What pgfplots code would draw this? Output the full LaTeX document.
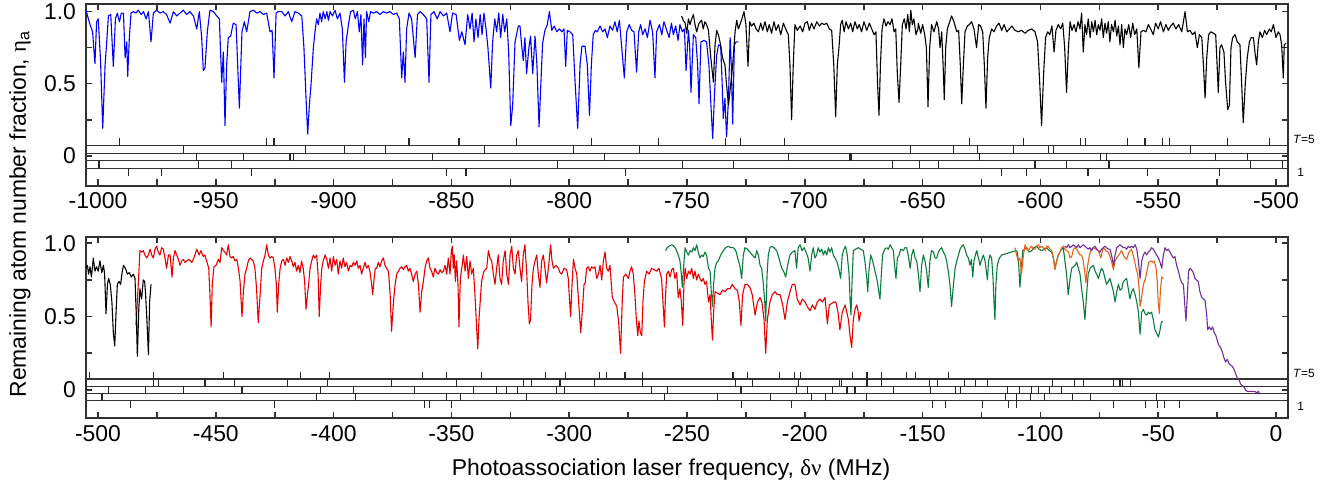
\documentclass[border=0pt]{standalone}
\usepackage{fontspec}
\setmainfont{Liberation Sans}
\newfontfamily\grk{Liberation Serif}
\usepackage{pgfplots}
\pgfplotsset{compat=1.18}
\definecolor{pblue}{RGB}{0,0,255}
\definecolor{pred}{RGB}{232,0,0}
\definecolor{pgreen}{RGB}{10,125,60}
\definecolor{porange}{RGB}{228,98,28}
\definecolor{ppurple}{RGB}{115,45,155}
\definecolor{spine}{RGB}{50,50,50}

\pgfplotsset{
  panel/.style={
    scale only axis, width=601bp, height=90.85bp, anchor=south west,
    axis line style={line width=1bp, spine},
    tick align=inside, xtick pos=both, ytick pos=both,
    major tick length=3.2bp, minor tick length=3.2bp,
    tick style={spine, line width=0.8bp},
    ytick={0,0.5,1}, yticklabels={0,0.5,1.0}, minor ytick={0.25,0.75},
    tick label style={font=\fontsize{11.5}{13}\selectfont},
    yticklabel style={xshift=-1.5bp},
    every axis plot/.append style={line width=0.55bp, line join=round},
  },
  lad/.style={only marks, mark=|, mark size=1.85bp, mark options={line width=0.55bp, black!85}},
  ladline/.style={black!80, line width=0.55bp},
}

\begin{document}
\begin{tikzpicture}
\useasboundingbox (0,0) rectangle (667bp,246bp);

% ---------------- upper panel ----------------
\begin{axis}[panel, at={(43bp,153.15bp)},
  xmin=-1005.1, xmax=-494.9, ymin=-0.208, ymax=1.053,
  xtick={-1000,-950,...,-500}, minor xtick={-975,-925,...,-525},
  xticklabels={-1000,-950,-900,-850,-800,-750,-700,-650,-600,-550,-500}]

% ladder
\addplot[ladline] coordinates {(-1010,0.070) (-490,0.070)};
\addplot[ladline] coordinates {(-1010,0.018) (-490,0.018)};
\addplot[ladline] coordinates {(-1010,-0.034) (-490,-0.034)};
\addplot[ladline] coordinates {(-1010,-0.086) (-490,-0.086)};
% T=5
\addplot[lad] coordinates {(-990.7,0.096) (-928.4,0.096) (-925.3,0.096) (-868,0.096) (-846.8,0.096) (-822.2,0.096)
 (-790.5,0.096) (-762,0.096) (-733.7,0.096) (-727.2,0.096) (-708.6,0.096) (-630.1,0.096) (-607.2,0.096)
 (-582.8,0.096) (-581,0.096) (-563.1,0.096) (-555.6,0.096) (-548.1,0.096) (-545.2,0.096) (-520.5,0.096) (-502.7,0.096)};
% T=4
\addplot[lad] coordinates {(-963.6,0.044) (-912,0.044) (-895.5,0.044) (-887,0.044) (-878.1,0.044) (-836,0.044)
 (-798,0.044) (-770,0.044) (-655.2,0.044) (-636.8,0.044) (-626.6,0.044) (-611.4,0.044) (-596.6,0.044) (-594.3,0.044) (-536.2,0.044)};
% T=3
\addplot[lad] coordinates {(-958.1,-0.008) (-938.3,-0.008) (-918.5,-0.008) (-916.9,-0.008) (-857.9,-0.008)
 (-785,-0.008) (-707.1,-0.008) (-680.8,-0.008) (-680,-0.008) (-625.8,-0.008) (-574.5,-0.008) (-572.1,-0.008)
 (-525.6,-0.008) (-512.2,-0.008)};
% T=2
\addplot[lad] coordinates {(-999.6,-0.060) (-957.4,-0.060) (-943.5,-0.060) (-805,-0.060) (-752,-0.060) (-730.1,-0.060)
 (-662.9,-0.060) (-651.3,-0.060) (-643.3,-0.060) (-602.3,-0.060) (-588.9,-0.060) (-570.9,-0.060) (-510.9,-0.060) (-497.2,-0.060)};
% T=1
\addplot[lad] coordinates {(-987,-0.112) (-973,-0.112) (-935,-0.112) (-852.2,-0.112) (-843.8,-0.112)
 (-776,-0.112) (-616.5,-0.112) (-605.9,-0.112) (-579.8,-0.112) (-554.5,-0.112) (-524.1,-0.112)};

% blue spectrum
\addplot[pblue] coordinates {
(-1005.1,1.01) (-1003.4,0.91) (-1002.3,0.86) (-1001.3,0.64) (-1000.6,0.93) (-999.9,0.95) (-998.9,0.65) (-998.0,0.19)
(-997.0,0.63) (-996.3,0.79) (-995.6,0.97) (-994.6,0.98) (-993.5,0.62) (-992.6,0.95) (-991.8,0.99) (-990.9,0.93)
(-990.1,0.99) (-989.2,0.99) (-988.5,0.68) (-987.8,0.79) (-987.4,0.55) (-986.7,0.82) (-986.0,0.99) (-985.0,1.0)
(-983.9,0.99) (-982.9,1.01) (-981.7,0.98) (-980.7,1.0) (-979.6,0.95) (-978.6,1.0) (-977.5,0.79) (-976.5,0.99)
(-975.1,1.01) (-973.7,0.99) (-972.3,1.0) (-970.9,0.98) (-969.4,0.92) (-968.0,1.0) (-966.6,0.97) (-965.2,0.99)
(-963.8,1.01) (-962.4,0.98) (-961.0,1.0) (-959.5,0.97) (-958.1,0.88) (-957.0,1.0) (-956.0,0.82) (-955.3,0.59)
(-954.6,0.61) (-953.6,0.86) (-952.5,1.01) (-951.0,1.0) (-949.6,0.97) (-948.5,0.95) (-947.5,0.51) (-946.8,0.72)
(-946.1,0.21) (-945.4,0.63) (-944.7,0.82) (-943.7,0.83) (-942.6,0.92) (-941.4,0.91) (-940.0,0.33) (-938.9,0.86)
(-937.9,0.93) (-936.9,0.86) (-935.5,1.0) (-934.1,1.01) (-932.6,0.99) (-931.2,1.0) (-929.8,0.98) (-928.4,0.99)
(-927.0,0.86) (-926.1,0.87) (-925.3,0.54) (-924.4,0.99) (-923.5,1.0) (-922.0,1.0) (-920.6,0.97) (-919.2,1.0)
(-917.8,0.93) (-916.4,1.0) (-915.0,0.99) (-913.5,0.97) (-912.6,0.75) (-911.7,0.40) (-911.0,0.15) (-910.3,0.35)
(-909.6,0.49) (-908.6,0.75) (-907.9,0.86) (-907.2,0.95) (-906.5,0.91) (-905.8,0.99) (-905.1,0.93) (-904.4,1.0)
(-903.6,0.95) (-902.9,1.0) (-902.2,0.94) (-901.5,1.0) (-900.5,0.97) (-899.4,1.01) (-898.4,0.95) (-897.3,0.99)
(-896.3,0.88) (-895.4,0.51) (-894.7,0.79) (-893.7,0.91) (-892.8,1.0) (-891.6,1.01) (-890.8,0.95) (-889.9,1.0)
(-889.1,0.86) (-888.4,0.98) (-887.7,0.63) (-887.1,0.95) (-886.5,0.68) (-886.0,1.0) (-885.1,0.93) (-884.3,1.0)
(-883.1,0.99) (-881.7,1.0) (-880.3,0.98) (-878.9,1.0) (-877.5,0.99) (-876.1,1.0) (-874.6,0.98) (-873.2,0.99)
(-872.1,0.95) (-871.1,0.54) (-870.4,0.72) (-869.7,0.51) (-869.0,0.88) (-868.0,0.99) (-866.9,0.95) (-865.4,0.68)
(-864.4,0.98) (-863.3,1.0) (-861.9,0.98) (-860.5,0.95) (-859.5,0.51) (-858.7,0.98) (-857.4,1.0) (-856.0,0.95)
(-854.8,1.0) (-853.4,0.97) (-852.0,0.99) (-850.6,0.86) (-849.5,0.99) (-848.0,0.98) (-846.6,0.80) (-845.6,0.86)
(-844.2,0.77) (-843.1,0.98) (-842.1,0.88) (-841.2,0.99) (-840.4,0.79) (-839.6,0.95) (-838.7,0.82) (-837.8,0.98)
(-837.0,0.84) (-836.2,0.99) (-835.3,0.88) (-834.5,0.75) (-833.3,0.47) (-832.5,0.79) (-831.6,0.95) (-830.8,0.86)
(-829.9,0.99) (-829.1,0.82) (-828.2,0.98) (-827.4,0.86) (-826.5,0.95) (-825.7,0.72) (-824.8,0.21) (-824.0,0.35)
(-823.0,0.79) (-821.6,0.90) (-820.9,0.90) (-820.2,0.77) (-819.5,0.66) (-818.8,0.82) (-818.1,0.57) (-817.1,0.75)
(-816.4,0.83) (-815.5,0.57) (-814.5,0.83) (-813.7,0.63) (-812.8,0.20) (-812.0,0.51) (-811.3,0.78) (-810.3,0.87)
(-809.3,0.91) (-808.4,1.0) (-807.4,0.87) (-806.4,0.90) (-805.3,0.86) (-804.2,0.88) (-803.1,0.86) (-802.2,0.88)
(-801.5,0.62) (-800.8,0.87) (-799.7,0.86) (-798.5,0.84) (-797.5,0.51) (-796.4,0.19) (-795.4,0.63) (-794.6,0.76)
(-793.3,0.76) (-792.3,0.63) (-791.4,0.28) (-790.6,0.63) (-789.8,0.84) (-788.9,0.87) (-788.1,0.86) (-786.9,0.90)
(-785.8,0.86) (-784.8,0.88) (-783.8,0.82) (-782.7,0.90) (-781.6,0.87) (-780.6,0.93) (-779.6,0.86) (-778.7,0.94)
(-777.7,0.75) (-776.6,0.54) (-775.6,0.86) (-774.5,0.91) (-773.5,0.87) (-772.5,0.86) (-771.4,0.58) (-770.5,0.86)
(-769.7,0.91) (-768.8,0.84) (-767.8,0.88) (-766.8,0.82) (-765.7,0.94) (-764.6,0.86) (-763.6,0.54) (-762.9,0.86)
(-761.7,0.91) (-760.7,0.84) (-759.8,0.93) (-758.6,0.87) (-757.6,0.82) (-756.6,0.92) (-755.8,0.84) (-754.8,0.90)
(-753.8,0.80) (-753.0,0.91) (-752.0,0.86) (-751.1,0.88) (-750.4,0.59) (-749.4,0.87) (-748.9,0.77) (-748.3,0.44)
(-747.3,0.84) (-746.3,0.82) (-745.5,0.63) (-744.9,0.36) (-744.1,0.79) (-742.8,0.80) (-741.7,0.79) (-740.7,0.63)
(-740.0,0.40) (-739.1,0.12) (-738.3,0.44) (-737.4,0.70) (-736.6,0.77) (-735.7,0.76) (-735.1,0.51) (-734.6,0.26)
(-733.9,0.40) (-733.2,0.13) (-732.4,0.40) (-731.7,0.82) (-731.2,0.63) (-730.6,0.22) (-729.9,0.77) (-729.2,0.79)
(-728.2,0.79)};

% black spectrum (upper)
\addplot[black] coordinates {
(-752.3,0.97) (-751.6,0.94) (-750.8,0.92) (-750.1,0.85) (-749.4,0.95) (-748.7,0.91) (-748.0,0.95) (-747.3,0.98)
(-746.6,0.91) (-745.9,0.86) (-744.9,0.92) (-743.8,0.94) (-743.1,0.88) (-742.4,0.93) (-741.7,0.91) (-740.9,0.87)
(-739.9,0.68) (-738.8,0.51) (-738.1,0.77) (-737.4,0.87) (-736.7,0.84) (-736.0,0.79) (-734.9,0.68) (-733.9,0.63)
(-733.2,0.49) (-732.4,0.35) (-731.5,0.49) (-730.6,0.63) (-729.6,0.86) (-728.9,0.94) (-728.2,0.88) (-727.5,0.91)
(-726.7,0.95) (-725.8,1.0) (-725.0,0.91) (-724.1,0.62) (-723.4,0.93) (-722.6,0.90) (-721.6,0.92) (-720.7,0.88)
(-719.7,0.86) (-718.7,0.92) (-717.9,0.87) (-716.9,0.93) (-715.9,0.86) (-715.1,0.91) (-714.1,0.85) (-713.1,0.93)
(-712.2,0.87) (-711.2,0.91) (-710.2,0.84) (-709.1,0.92) (-708.1,0.88) (-707.0,0.84) (-706.3,0.63) (-705.6,0.25)
(-704.9,0.63) (-704.2,0.91) (-703.2,0.87) (-702.0,0.90) (-700.9,0.86) (-699.9,0.92) (-698.9,0.93) (-698.1,0.87)
(-697.1,0.92) (-696.1,0.88) (-694.9,0.93) (-693.8,0.90) (-692.8,0.92) (-691.8,0.91) (-690.7,0.92) (-689.6,0.88)
(-688.6,0.87) (-687.7,0.63) (-686.9,0.27) (-686.2,0.63) (-685.5,0.75) (-684.8,0.91) (-684.1,0.94) (-683.3,0.86)
(-682.5,0.93) (-681.5,0.88) (-680.5,0.92) (-679.7,0.86) (-678.7,0.93) (-677.7,0.88) (-676.9,0.91) (-675.9,0.86)
(-674.9,0.93) (-673.7,0.87) (-672.6,0.92) (-671.6,0.88) (-670.6,0.84) (-669.8,0.86) (-669.1,0.49) (-668.5,0.28)
(-667.9,0.63) (-667.2,0.88) (-666.4,0.95) (-665.5,0.90) (-664.7,0.93) (-663.8,0.91) (-663.0,0.95) (-662.1,0.86)
(-661.4,0.88) (-660.7,0.56) (-660.0,0.37) (-659.3,0.63) (-658.6,0.91) (-657.8,0.95) (-657.0,0.88) (-656.3,0.98)
(-655.6,0.86) (-655.0,1.01) (-654.4,0.91) (-653.7,0.95) (-652.8,0.84) (-652.0,0.88) (-651.8,0.92) (-650.8,0.85)
(-650.0,0.91) (-649.1,0.84) (-648.4,0.75) (-647.7,0.34) (-647.0,0.75) (-646.2,0.91) (-645.2,0.86) (-644.0,0.93)
(-643.2,0.88) (-642.6,0.75) (-641.9,0.86) (-641.3,0.63) (-640.8,0.39) (-640.2,0.75) (-639.5,0.88) (-638.7,0.92)
(-637.7,0.97) (-636.7,0.93) (-635.5,0.86) (-634.7,0.87) (-634.0,0.63) (-633.4,0.36) (-632.7,0.63) (-632.0,0.86)
(-631.0,0.90) (-630.2,0.91) (-629.2,0.93) (-628.2,0.88) (-627.1,0.75) (-626.2,0.91) (-625.4,0.90) (-624.5,0.86)
(-623.8,0.63) (-623.1,0.33) (-622.4,0.68) (-621.7,0.82) (-620.7,0.88) (-619.7,0.86) (-618.6,0.90) (-617.6,0.92)
(-616.4,0.87) (-615.4,0.91) (-614.3,0.86) (-613.2,0.88) (-612.1,0.90) (-610.8,0.87) (-609.4,0.86) (-608.0,0.87)
(-606.5,0.85) (-605.1,0.87) (-603.7,0.88) (-602.3,0.86) (-601.2,0.79) (-600.3,0.51) (-599.5,0.21) (-598.6,0.58)
(-597.8,0.82) (-596.9,0.86) (-596.0,0.84) (-595.1,0.90) (-594.2,0.72) (-593.4,0.87) (-592.4,0.91) (-591.4,0.88)
(-590.5,0.92) (-589.7,0.75) (-588.9,0.44) (-588.1,0.75) (-587.4,0.93) (-586.6,0.87) (-585.7,0.91) (-584.9,0.86)
(-584.0,0.93) (-583.2,0.88) (-582.5,0.99) (-581.8,0.72) (-581.1,0.91) (-580.4,0.84) (-579.7,0.95) (-578.9,0.82)
(-578.2,0.93) (-577.5,0.86) (-576.8,0.94) (-576.1,0.84) (-575.4,0.91) (-574.7,0.87) (-574.0,0.95) (-573.3,0.82)
(-572.6,0.92) (-571.9,0.85) (-571.2,0.93) (-570.5,0.79) (-569.8,0.91) (-569.0,0.86) (-568.3,0.94) (-567.6,0.83)
(-566.9,0.90) (-566.2,0.77) (-565.5,0.91) (-564.8,0.75) (-564.1,0.88) (-563.4,0.84) (-562.5,0.91) (-561.7,0.82)
(-560.8,0.92) (-560.0,0.84) (-559.1,0.88) (-558.2,0.61) (-557.3,0.86) (-556.3,0.87) (-555.2,0.86) (-554.2,0.91)
(-553.2,0.88) (-552.1,0.84) (-551.1,0.92) (-550.0,0.88) (-549.0,0.93) (-547.8,0.86) (-546.7,0.91) (-545.7,0.87)
(-544.7,0.90) (-543.6,0.92) (-542.5,0.88) (-541.3,0.91) (-540.0,0.86) (-538.6,1.0) (-537.6,0.86) (-536.5,0.87)
(-535.4,0.84) (-534.4,0.86) (-533.4,0.75) (-532.5,0.84) (-531.5,0.82) (-530.8,0.63) (-530.1,0.40) (-529.4,0.68)
(-528.6,0.84) (-527.7,0.86) (-526.6,0.85) (-525.6,0.84) (-525.0,0.63) (-524.5,0.44) (-523.8,0.75) (-523.1,0.77)
(-522.1,0.72) (-521.4,0.51) (-520.5,0.32) (-519.8,0.35) (-519.1,0.75) (-518.4,0.82) (-517.4,0.84) (-516.4,0.79)
(-515.3,0.77) (-514.6,0.51) (-513.9,0.23) (-513.0,0.51) (-512.2,0.68) (-511.3,0.79) (-510.5,0.82) (-509.6,0.82)
(-508.8,0.70) (-508.2,0.63) (-507.5,0.79) (-506.8,0.86) (-505.8,0.82) (-504.8,0.87) (-504.0,0.84) (-502.8,0.88)
(-502.0,0.86) (-501.1,0.91) (-500.0,0.82) (-499.0,0.86) (-498.3,0.84) (-497.6,0.77) (-496.9,0.54) (-496.5,0.77)
(-495.8,0.78)};
\end{axis}

% ---------------- lower panel ----------------
\begin{axis}[panel, at={(43bp,36.8bp)},
  xmin=-505.1, xmax=5.1, ymin=-0.194, ymax=1.045,
  xtick={-500,-450,...,0}, minor xtick={-475,-425,...,-25},
  xticklabels={-500,-450,-400,-350,-300,-250,-200,-150,-100,-50,0}]

\addplot[ladline] coordinates {(-510,0.075) (10,0.075)};
\addplot[ladline] coordinates {(-510,0.025) (10,0.025)};
\addplot[ladline] coordinates {(-510,-0.025) (10,-0.025)};
\addplot[ladline] coordinates {(-510,-0.075) (10,-0.075)};
% T=5
\addplot[lad] coordinates {(-503.7,0.1) (-476.6,0.1) (-446.9,0.1) (-414.1,0.1) (-401.7,0.1) (-362.4,0.1) (-352.2,0.1)
 (-337.4,0.1) (-309.9,0.1) (-301.4,0.1) (-287.3,0.1) (-284,0.1) (-276.6,0.1) (-276.0,0.1) (-269,0.1) (-230.5,0.1)
 (-224.2,0.1) (-210.7,0.1) (-204.5,0.1) (-201.9,0.1) (-179.9,0.1) (-173.6,0.1) (-167.4,0.1) (-156.7,0.1) (-153.2,0.1) (-138.9,0.1)};
% T=4
\addplot[lad] coordinates {(-476.6,0.05) (-474.2,0.05) (-454.6,0.05) (-441.9,0.05) (-419.5,0.05) (-402.5,0.05) (-375.4,0.05)
 (-347.7,0.05) (-319.4,0.05) (-316,0.05) (-303.9,0.05) (-289.2,0.05) (-269,0.05) (-229.6,0.05) (-222.2,0.05) (-202.5,0.05)
 (-185.4,0.05) (-184.4,0.05) (-173.6,0.05) (-167.4,0.05) (-147,0.05) (-143.8,0.05) (-132.3,0.05) (-127.4,0.05) (-122.5,0.05)
 (-95,0.05) (-85.7,0.05) (-81.7,0.05) (-68.9,0.05) (-66.2,0.05) (-65.3,0.05) (-61.9,0.05)};
% T=3
\addplot[lad] coordinates {(-495.4,0) (-479.9,0) (-463.9,0) (-438.9,0) (-405.4,0) (-391.7,0) (-365.6,0) (-340.8,0) (-330.7,0)
 (-326.6,0) (-322,0) (-305.5,0) (-302.1,0) (-265.1,0) (-258.2,0) (-227.1,0) (-203.7,0) (-199,0) (-188.3,0) (-182.1,0)
 (-178.7,0) (-162.5,0) (-146.7,0) (-136.2,0) (-133.8,0) (-113.8,0) (-108.7,0) (-103.6,0) (-100.9,0) (-96,0) (-90.9,0)};
% T=2
\addplot[lad] coordinates {(-498.3,-0.05) (-407.4,-0.05) (-390.6,-0.05) (-352.2,-0.05) (-346,-0.05) (-318.3,-0.05) (-259.7,-0.05)
 (-237.2,-0.05) (-214.5,-0.05) (-197.2,-0.05) (-191.2,-0.05) (-174,-0.05) (-114.9,-0.05) (-110,-0.05) (-104.3,-0.05)
 (-98.4,-0.05) (-86.3,-0.05) (-78.7,-0.05) (-50.8,-0.05)};
% T=1
\addplot[lad] coordinates {(-486.2,-0.1) (-425.2,-0.1) (-361.4,-0.1) (-359.4,-0.1) (-350.1,-0.1) (-226.8,-0.1) (-205.7,-0.1)
 (-145.8,-0.1) (-140.2,-0.1) (-124.7,-0.1) (-113.6,-0.1) (-110,-0.1) (-68.9,-0.1) (-55.4,-0.1) (-50.3,-0.1) (-47.3,-0.1) (-40.9,-0.1)};

% red
\addplot[pred] coordinates {
(-483.9,0.44) (-483.3,0.60) (-482.7,0.79) (-482.2,0.95) (-481.5,0.94) (-480.8,0.95) (-480.1,0.92) (-479.3,0.90)
(-478.6,0.92) (-477.9,0.96) (-477.2,0.92) (-476.5,0.90) (-475.8,0.96) (-475.1,0.98) (-474.4,0.94) (-473.7,0.92)
(-473.0,0.97) (-472.3,0.96) (-471.6,0.90) (-470.9,0.83) (-470.1,0.92) (-469.4,0.92) (-468.6,0.77) (-468.0,0.90)
(-467.3,0.95) (-466.6,0.92) (-465.9,0.89) (-465.2,0.85) (-464.5,0.88) (-463.8,0.89) (-463.1,0.87) (-462.4,0.88)
(-461.4,0.89) (-460.2,0.87) (-459.3,0.90) (-458.1,0.96) (-457.1,0.92) (-456.3,0.95) (-455.3,0.91) (-454.6,0.92)
(-453.9,0.88) (-453.0,0.83) (-452.5,0.65) (-452.0,0.43) (-451.5,0.72) (-450.8,0.84) (-449.9,0.85) (-448.9,0.89)
(-448.2,0.87) (-447.5,0.97) (-446.8,0.95) (-446.1,0.94) (-445.4,0.92) (-444.7,0.99) (-444.0,0.91) (-443.3,0.90)
(-442.6,0.91) (-441.9,0.88) (-441.1,0.89) (-440.4,0.83) (-439.7,0.74) (-438.9,0.50) (-438.3,0.67) (-437.6,0.79)
(-436.9,0.83) (-436.2,0.88) (-435.5,0.90) (-434.8,0.89) (-434.1,0.88) (-433.4,0.83) (-432.7,0.69) (-432.0,0.46)
(-431.2,0.65) (-430.5,0.83) (-429.8,0.88) (-429.1,0.92) (-428.4,0.99) (-427.7,0.92) (-427.0,0.90) (-426.3,0.91)
(-425.6,0.90) (-424.9,0.83) (-424.3,0.72) (-423.9,0.53) (-423.3,0.72) (-422.7,0.83) (-422.0,0.88) (-421.3,0.89)
(-420.6,0.85) (-419.9,0.90) (-419.2,0.87) (-418.5,0.91) (-417.8,0.88) (-417.1,0.84) (-416.4,0.87) (-415.7,0.81)
(-415.0,0.85) (-414.3,0.80) (-413.6,0.88) (-412.9,0.83) (-412.3,0.74) (-411.7,0.55) (-411.1,0.65) (-410.6,0.72)
(-410.0,0.83) (-409.3,0.88) (-408.6,0.92) (-407.9,0.90) (-407.2,0.92) (-406.6,0.79) (-406.1,0.50) (-405.5,0.72)
(-405.0,0.83) (-404.4,0.88) (-403.6,0.92) (-402.9,0.89) (-402.2,0.83) (-401.5,0.90) (-400.8,0.81) (-400.1,0.91)
(-399.4,0.85) (-398.7,0.89) (-398.0,0.79) (-397.3,0.88) (-396.6,0.83) (-395.9,0.90) (-395.2,0.84) (-394.5,0.87)
(-393.7,0.81) (-393.0,0.85) (-392.3,0.84) (-391.6,0.87) (-390.9,0.85) (-390.2,0.88) (-389.5,0.83) (-388.8,0.85)
(-388.1,0.79) (-387.4,0.83) (-386.7,0.87) (-386.0,0.83) (-385.3,0.85) (-384.6,0.81) (-384.0,0.74) (-383.4,0.65)
(-382.8,0.76) (-382.3,0.83) (-381.7,0.83) (-381.0,0.87) (-380.3,0.84) (-379.6,0.88) (-378.9,0.90) (-378.2,0.85)
(-377.5,0.83) (-376.7,0.81) (-376.0,0.65) (-375.4,0.40) (-374.6,0.60) (-373.9,0.72) (-373.2,0.79) (-372.5,0.81)
(-371.8,0.83) (-371.1,0.84) (-370.4,0.82) (-369.7,0.84) (-369.0,0.85) (-368.3,0.81) (-367.6,0.83) (-366.9,0.79)
(-366.2,0.74) (-365.4,0.79) (-364.7,0.81) (-364.0,0.72) (-363.3,0.53) (-362.6,0.67) (-361.9,0.74) (-361.2,0.83)
(-360.5,0.88) (-359.8,0.90) (-359.1,0.83) (-358.4,0.81) (-357.7,0.77) (-357.0,0.83) (-356.2,0.80) (-355.5,0.79)
(-354.8,0.82) (-354.1,0.80) (-353.4,0.81) (-352.7,0.85) (-352.0,0.79) (-351.3,0.90) (-350.6,0.79) (-350.0,0.95)
(-349.6,0.98) (-349.2,0.83) (-348.8,0.92) (-348.3,0.74) (-347.8,0.88) (-347.2,0.72) (-346.8,0.43) (-346.2,0.76)
(-345.6,0.83) (-344.9,0.92) (-344.2,0.81) (-343.5,0.91) (-342.8,0.76) (-342.1,0.88) (-341.4,0.79) (-340.7,0.83)
(-340.0,0.65) (-339.4,0.46) (-338.8,0.28) (-338.3,0.48) (-337.7,0.62) (-337.2,0.74) (-336.2,0.81) (-335.0,0.83)
(-334.3,0.95) (-333.6,0.90) (-332.9,0.88) (-332.2,0.79) (-331.5,0.72) (-330.8,0.83) (-330.1,0.92) (-329.4,0.76)
(-328.7,0.72) (-328.0,0.88) (-327.2,0.95) (-326.5,0.79) (-325.8,0.72) (-325.1,0.92) (-324.4,0.98) (-323.7,0.83)
(-323.0,0.79) (-322.3,0.92) (-321.6,0.95) (-320.9,0.83) (-320.2,0.74) (-319.5,0.92) (-318.8,0.99) (-318.0,0.79)
(-317.5,0.60) (-316.9,0.45) (-316.4,0.48) (-315.8,0.72) (-315.2,0.83) (-314.5,0.88) (-313.8,0.92) (-313.1,0.79)
(-312.4,0.70) (-311.7,0.88) (-311.0,0.92) (-310.3,0.83) (-309.6,0.73) (-308.7,0.85) (-307.9,0.99) (-307.3,0.88)
(-306.7,0.83) (-305.6,0.85) (-304.6,0.83) (-303.9,0.80) (-303.2,0.79) (-302.2,0.83) (-301.1,0.82) (-300.4,0.76)
(-300.0,0.65) (-299.4,0.50) (-298.8,0.72) (-298.2,0.89) (-297.5,0.83) (-296.8,0.79) (-296.0,0.60) (-295.1,0.39)
(-294.4,0.55) (-293.7,0.72) (-293.2,0.73) (-292.6,0.83) (-291.9,0.84) (-291.2,0.81) (-290.5,0.84) (-289.8,0.83)
(-289.1,0.84) (-288.3,0.76) (-287.6,0.79) (-286.9,0.85) (-286.2,0.75) (-285.5,0.88) (-284.8,0.94) (-284.1,0.83)
(-283.4,0.81) (-282.7,0.85) (-281.7,0.63) (-280.8,0.60) (-279.8,0.57) (-279.0,0.46) (-278.2,0.25) (-277.5,0.60)
(-277.0,0.77) (-276.0,0.79) (-274.9,0.76) (-274.2,0.81) (-273.5,0.84) (-272.8,0.79) (-272.1,0.65) (-271.5,0.48)
(-270.9,0.37) (-270.4,0.47) (-269.8,0.39) (-269.2,0.37) (-268.7,0.60) (-268.1,0.74) (-267.1,0.81) (-266.1,0.79)
(-265.0,0.83) (-264.0,0.82) (-262.9,0.81) (-261.9,0.83) (-260.8,0.76) (-260.2,0.60) (-259.6,0.43) (-259.1,0.65)
(-258.6,0.79) (-257.9,0.81) (-257.2,0.77) (-256.5,0.82) (-255.8,0.83) (-255.1,0.76) (-254.4,0.80) (-253.7,0.63)
(-253.0,0.69) (-252.4,0.60) (-251.8,0.44) (-251.3,0.72) (-250.8,0.83) (-250.1,0.76) (-249.4,0.81) (-248.7,0.79)
(-248.0,0.83) (-247.3,0.76) (-246.6,0.81) (-245.9,0.75) (-245.2,0.79) (-244.5,0.76) (-243.8,0.74) (-243.1,0.76)
(-242.4,0.72) (-241.7,0.74) (-240.9,0.60) (-240.2,0.65) (-239.7,0.48) (-239.2,0.34) (-238.7,0.53) (-238.1,0.67)
(-237.1,0.66) (-236.0,0.65) (-235.0,0.68) (-233.9,0.67) (-232.9,0.69) (-231.7,0.69) (-230.8,0.72) (-229.6,0.69)
(-228.6,0.68) (-227.8,0.60) (-227.1,0.44) (-226.4,0.65) (-225.4,0.72) (-224.4,0.72) (-223.3,0.70) (-222.3,0.65)
(-221.1,0.51) (-220.1,0.60) (-219.0,0.63) (-218.2,0.60) (-217.3,0.48) (-216.6,0.25) (-215.9,0.48) (-214.8,0.60)
(-213.8,0.65) (-212.6,0.67) (-211.7,0.65) (-210.5,0.65) (-209.4,0.58) (-208.4,0.48) (-207.4,0.60) (-206.3,0.67)
(-205.3,0.72) (-204.2,0.72) (-203.2,0.62) (-202.0,0.58) (-201.1,0.62) (-199.9,0.60) (-199.0,0.57) (-197.8,0.54)
(-196.8,0.58) (-195.7,0.55) (-194.7,0.60) (-193.6,0.62) (-192.6,0.60) (-191.4,0.63) (-190.4,0.45) (-189.6,0.58)
(-188.6,0.59) (-187.6,0.60) (-186.8,0.60) (-185.9,0.53) (-185.1,0.41) (-184.1,0.53) (-182.9,0.58) (-182.2,0.53)
(-181.5,0.48) (-180.8,0.37) (-180.1,0.29) (-179.4,0.48) (-178.7,0.55) (-178.0,0.58) (-177.4,0.54) (-177.0,0.47)
(-176.3,0.53)};

% black (lower)
\addplot[black] coordinates {
(-505.1,0.83) (-504.5,0.85) (-504.0,0.79) (-503.4,0.84) (-502.8,0.77) (-502.0,0.90) (-501.3,0.81) (-500.6,0.84)
(-499.9,0.81) (-499.2,0.88) (-498.4,0.80) (-497.7,0.85) (-497.2,0.79) (-496.6,0.52) (-496.0,0.72) (-495.5,0.76)
(-494.8,0.72) (-494.1,0.60) (-493.5,0.39) (-492.9,0.30) (-492.4,0.51) (-491.8,0.72) (-491.1,0.74) (-490.4,0.72)
(-489.7,0.81) (-489.2,0.85) (-488.4,0.83) (-487.5,0.79) (-486.7,0.80) (-485.9,0.77) (-485.0,0.79) (-484.3,0.76)
(-483.7,0.48) (-483.3,0.23) (-482.7,0.55) (-482.2,0.69) (-481.5,0.62) (-480.8,0.75) (-480.2,0.74) (-479.8,0.65)
(-479.2,0.46) (-478.6,0.24) (-478.1,0.60) (-477.5,0.72)};

% green
\addplot[pgreen] coordinates {
(-259.1,0.95) (-258.4,0.97) (-257.7,0.98) (-256.5,0.99) (-255.5,0.98) (-254.7,0.96) (-253.7,0.92) (-253.0,0.88)
(-252.4,0.79) (-252.0,0.70) (-251.4,0.85) (-250.8,0.97) (-250.1,0.94) (-249.4,0.92) (-248.7,0.95) (-247.9,0.94)
(-247.3,0.97) (-246.6,0.95) (-245.9,0.99) (-245.2,0.94) (-244.5,0.90) (-243.8,0.92) (-243.1,0.91) (-242.4,0.94)
(-241.7,0.92) (-240.9,0.83) (-240.2,0.81) (-239.7,0.67) (-239.2,0.57) (-238.7,0.72) (-238.1,0.83) (-237.4,0.87)
(-236.7,0.88) (-235.7,0.92) (-234.6,0.95) (-233.6,0.97) (-232.5,0.98) (-231.5,0.97) (-230.3,0.97) (-229.3,0.95)
(-228.5,0.90) (-227.6,0.85) (-226.8,0.76) (-226.1,0.92) (-225.4,0.97) (-224.4,0.96) (-223.3,0.94) (-222.3,0.92)
(-221.1,0.90) (-220.4,0.95) (-219.7,0.92) (-219.0,0.85) (-218.3,0.83) (-217.6,0.72) (-217.0,0.60) (-216.6,0.47)
(-216.0,0.79) (-215.5,0.92) (-214.8,0.97) (-214.1,0.98) (-213.1,0.97) (-211.9,0.95) (-211.0,0.90) (-209.8,0.83)
(-209.0,0.81) (-208.1,0.77) (-207.3,0.85) (-206.3,0.92) (-205.3,0.94) (-204.2,0.95) (-203.5,0.83) (-202.8,0.97)
(-202.0,0.99) (-201.2,0.95) (-200.3,0.97) (-199.5,0.94) (-198.6,0.90) (-197.8,0.81) (-197.1,0.92) (-196.4,0.97)
(-195.7,0.90) (-195.0,0.92) (-194.3,0.97) (-193.6,0.94) (-192.8,0.96) (-192.1,0.92) (-191.4,0.95) (-190.7,0.92)
(-190.0,0.97) (-189.3,0.94) (-188.6,0.97) (-187.9,0.92) (-187.2,0.90) (-186.5,0.88) (-185.6,0.83) (-184.8,0.76)
(-184.1,0.92) (-183.4,0.96) (-182.7,0.98) (-182.0,0.92) (-181.2,0.79) (-180.8,0.62) (-180.4,0.51) (-180.0,0.72)
(-179.4,0.95) (-178.4,0.96) (-177.3,0.97) (-176.3,0.96) (-175.2,0.95) (-174.5,0.88) (-173.7,0.76) (-173.3,0.67)
(-172.7,0.83) (-172.0,0.92) (-171.2,0.88) (-170.2,0.81) (-169.2,0.74) (-168.5,0.66) (-168.1,0.62) (-167.5,0.79)
(-167.0,0.92) (-166.1,0.96) (-165.3,0.97) (-164.5,0.96) (-163.8,0.99) (-163.1,0.97) (-162.4,0.95) (-161.9,0.85)
(-161.3,0.76) (-160.7,0.90) (-160.0,0.92) (-159.3,0.96) (-158.2,0.95) (-157.5,0.97) (-156.8,0.97) (-156.1,0.92)
(-155.3,0.83) (-154.6,0.92) (-153.9,0.96) (-153.2,0.90) (-152.5,0.88) (-151.8,0.79) (-151.1,0.67) (-150.4,0.85)
(-149.7,0.92) (-149.0,0.88) (-148.3,0.81) (-147.6,0.70) (-146.9,0.88) (-146.2,0.95) (-145.4,0.94) (-144.7,0.90)
(-144.0,0.90) (-143.3,0.94) (-142.6,0.96) (-141.9,0.97) (-141.2,0.94) (-140.5,0.92) (-139.8,0.88) (-139.1,0.81)
(-138.4,0.72) (-137.7,0.57) (-136.9,0.72) (-136.2,0.83) (-135.5,0.88) (-134.8,0.92) (-134.1,0.96) (-133.4,0.98)
(-132.7,0.99) (-132.0,0.96) (-131.3,0.92) (-130.6,0.90) (-129.9,0.85) (-129.3,0.89) (-128.7,0.77) (-128.2,0.88)
(-127.6,0.92) (-127.0,0.95) (-126.3,0.90) (-125.6,0.85) (-124.9,0.89) (-124.2,0.92) (-123.5,0.88) (-122.5,0.75)
(-122.0,0.88) (-121.4,0.92) (-120.7,0.90) (-120.1,0.76) (-119.7,0.60) (-119.3,0.48) (-118.9,0.72) (-118.3,0.85)
(-117.4,0.90) (-116.4,0.92) (-110.3,nan)
(-110.3,0.95) (-109.8,0.94) (-109.2,0.85) (-108.7,0.70) (-108.1,0.83) (-107.5,0.95) (-106.7,0.96) (-105.8,0.97)
(-104.8,0.94) (-103.7,0.95) (-102.7,0.97) (-101.6,0.98) (-100.6,0.96) (-99.5,0.95) (-98.5,0.96) (-97.3,0.97)
(-96.3,0.95) (-95.2,0.94) (-94.5,0.90) (-93.8,0.83) (-93.1,0.88) (-92.4,0.92) (-91.7,0.94) (-91.0,0.96)
(-90.3,0.97) (-89.6,0.88) (-88.9,0.79) (-88.2,0.65) (-87.4,0.76) (-86.7,0.83) (-86.0,0.84) (-85.3,0.85)
(-84.6,0.87) (-83.9,0.83) (-83.2,0.79) (-82.5,0.69) (-81.8,0.60) (-81.1,0.48) (-80.4,0.65) (-79.7,0.79)
(-78.9,0.83) (-78.2,0.84) (-77.5,0.85) (-76.8,0.81) (-76.1,0.79) (-75.4,0.76) (-74.7,0.80) (-74.0,0.83)
(-73.3,0.81) (-72.6,0.76) (-71.9,0.72) (-71.2,0.74) (-70.5,0.76) (-69.8,0.72) (-69.0,0.67) (-68.3,0.60)
(-67.6,0.67) (-66.9,0.72) (-66.2,0.68) (-65.5,0.69) (-64.8,0.74) (-64.1,0.75) (-63.4,0.76) (-62.7,0.69)
(-62.0,0.62) (-61.3,0.67) (-60.6,0.69) (-59.8,0.65) (-59.1,0.60) (-58.4,0.53) (-57.7,0.38) (-57.0,0.53)
(-56.3,0.55) (-55.6,0.52) (-54.9,0.51) (-54.2,0.53) (-53.5,0.52) (-52.8,0.53) (-52.1,0.48) (-51.4,0.41)
(-50.7,0.39) (-49.9,0.36) (-49.2,0.41) (-48.7,0.46) (-48.1,0.47)};

% orange
\addplot[porange] coordinates {
(-110.8,0.97) (-110.1,0.92) (-109.4,0.88) (-108.7,0.90) (-108.0,0.79) (-107.2,0.92) (-106.5,0.99) (-105.8,0.96)
(-105.1,0.95) (-104.4,0.97) (-103.7,0.98) (-103.0,0.96) (-102.3,0.96) (-101.6,0.98) (-100.9,0.99) (-100.2,0.97)
(-99.5,0.98) (-98.8,0.97) (-98.0,0.95) (-97.3,0.98) (-96.6,0.98) (-95.9,0.96) (-95.2,0.95) (-94.5,0.90)
(-93.8,0.82) (-93.1,0.88) (-92.4,0.92) (-91.7,0.94) (-91.0,0.97) (-90.3,0.98) (-89.6,0.96) (-88.9,0.95)
(-88.1,0.94) (-87.4,0.90) (-86.7,0.91) (-86.0,0.96) (-85.3,0.97) (-84.6,0.96) (-83.9,0.94) (-83.2,0.92)
(-82.5,0.92) (-81.8,0.88) (-81.2,0.81) (-80.7,0.73) (-80.1,0.83) (-79.2,0.92) (-78.4,0.96) (-77.5,0.97)
(-76.5,0.96) (-75.4,0.95) (-74.4,0.90) (-73.3,0.97) (-72.3,0.95) (-71.2,0.94) (-70.2,0.90) (-69.0,0.82)
(-68.3,0.88) (-67.6,0.90) (-66.7,0.92) (-65.5,0.95) (-64.5,0.91) (-63.4,0.89) (-62.4,0.94) (-61.3,0.96)
(-60.3,0.90) (-59.4,0.83) (-58.7,0.79) (-58.1,0.69) (-57.7,0.57) (-57.1,0.62) (-56.6,0.69) (-55.9,0.74)
(-55.4,0.76) (-54.8,0.81) (-54.0,0.87) (-53.2,0.88) (-52.4,0.87) (-51.7,0.88) (-50.9,0.83) (-50.4,0.74)
(-50.0,0.60) (-49.5,0.52) (-49.1,0.67) (-48.5,0.77) (-47.8,0.76)};

% purple
\addplot[ppurple] coordinates {
(-89.6,0.98) (-88.9,0.97) (-88.1,0.99) (-87.4,0.97) (-86.7,0.98) (-86.0,0.99) (-85.3,0.98) (-84.6,0.97)
(-83.9,0.99) (-83.2,0.97) (-82.5,0.98) (-81.8,0.99) (-81.1,0.98) (-80.4,0.97) (-79.7,0.96) (-79.0,0.97)
(-78.3,0.95) (-77.5,0.97) (-76.8,0.98) (-76.1,0.96) (-75.4,0.95) (-74.7,0.94) (-74.0,0.96) (-73.3,0.97)
(-72.6,0.98) (-71.9,0.97) (-71.2,0.96) (-70.5,0.96) (-69.8,0.92) (-69.0,0.85) (-68.3,0.92) (-67.6,0.97)
(-66.9,0.98) (-66.2,0.99) (-65.5,0.98) (-64.8,0.97) (-64.1,0.97) (-63.4,0.96) (-62.7,0.98) (-62.0,0.97)
(-61.3,0.98) (-60.6,0.97) (-59.8,0.99) (-59.1,0.96) (-58.4,0.88) (-57.7,0.76) (-57.0,0.88) (-56.3,0.92)
(-55.6,0.94) (-54.9,0.92) (-54.2,0.94) (-53.5,0.95) (-52.8,0.97) (-52.1,0.96) (-51.4,0.94) (-50.7,0.92)
(-49.9,0.90) (-49.2,0.87) (-48.5,0.83) (-47.8,0.92) (-47.1,0.97) (-46.4,0.95) (-45.7,0.96) (-45.0,0.94)
(-44.3,0.92) (-43.6,0.90) (-42.9,0.91) (-42.2,0.85) (-41.4,0.81) (-40.7,0.76) (-40.0,0.73) (-39.3,0.72)
(-38.8,0.60) (-38.2,0.47) (-37.6,0.65) (-37.1,0.81) (-36.5,0.83) (-35.8,0.82) (-35.1,0.80) (-34.4,0.76)
(-33.7,0.75) (-33.0,0.74) (-32.3,0.67) (-31.5,0.63) (-30.8,0.62) (-30.1,0.61) (-29.4,0.51) (-29.0,0.41)
(-28.3,0.43) (-27.6,0.41) (-26.9,0.43) (-26.2,0.39) (-25.5,0.37) (-24.8,0.33) (-24.1,0.30) (-23.5,0.29)
(-22.8,0.26) (-22.1,0.22) (-21.4,0.19) (-20.7,0.21) (-20.0,0.18) (-19.3,0.17) (-18.5,0.16) (-17.8,0.14)
(-17.1,0.11) (-16.4,0.08) (-15.7,0.07) (-15.0,0.04) (-14.3,0.03) (-13.6,0.02) (-12.9,0.00) (-12.2,-0.01)
(-11.0,-0.01) (-9.9,-0.01) (-8.9,-0.01) (-8.2,-0.02) (-7.5,-0.01) (-6.8,-0.03)};
\end{axis}

% labels
\node[rotate=90, font=\fontsize{11.5}{13}\selectfont] at (10bp,139bp)
  {Remaining atom number fraction, {\grk η}\textsubscript{a}};
\node[font=\fontsize{11.5}{13}\selectfont] at (335.5bp,11bp)
  {Photoassociation laser frequency, {\grk δν} (MHz)};
\node[anchor=west, inner sep=0pt, font=\fontsize{6}{7}\selectfont] at (646.3bp,176.2bp) {\textit{T}=5};
\node[anchor=west, inner sep=0pt, font=\fontsize{6}{7}\selectfont] at (648.5bp,160bp) {1};
\node[anchor=west, inner sep=0pt, font=\fontsize{6}{7}\selectfont] at (646.3bp,59.5bp) {\textit{T}=5};
\node[anchor=west, inner sep=0pt, font=\fontsize{6}{7}\selectfont] at (648.5bp,43bp) {1};
\end{tikzpicture}
\end{document}
